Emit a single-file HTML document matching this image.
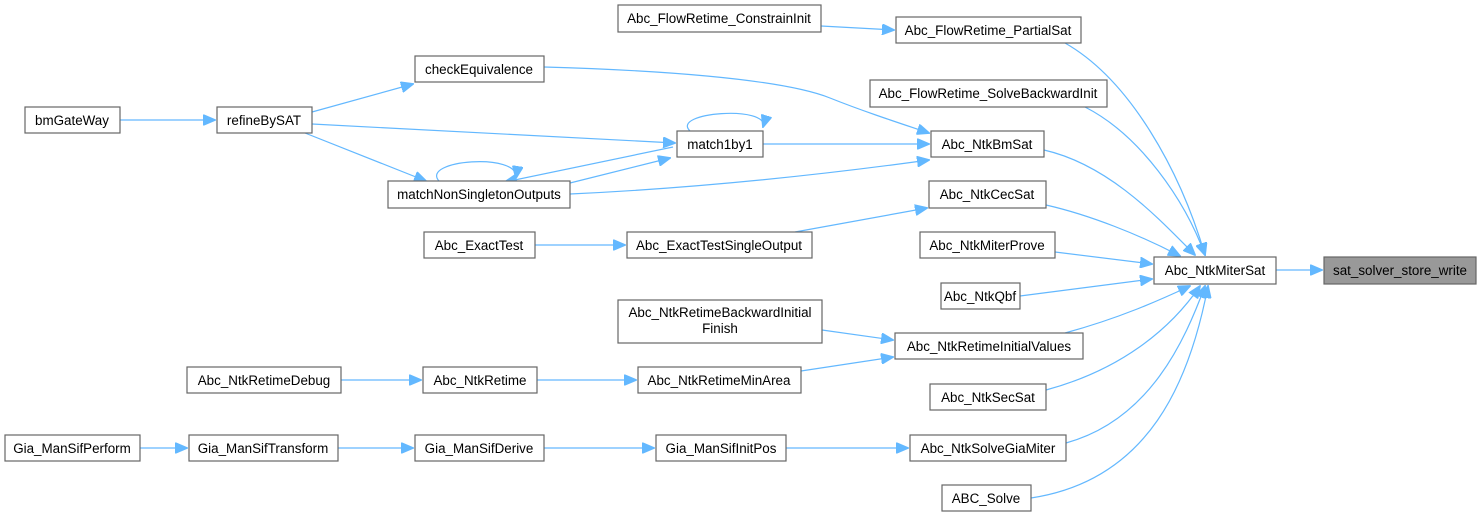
<!DOCTYPE html>
<html><head><meta charset="utf-8"><style>
html,body{margin:0;padding:0;background:#fff;}
svg{display:block;}
text{font-family:"Liberation Sans",Arial,sans-serif;font-size:13.4px;fill:#000;text-anchor:middle;}
.b{fill:#fff;stroke:#666;stroke-width:1.2;}
.e{fill:none;stroke:#63b8ff;stroke-width:1.2;}
</style></head><body>
<svg width="1482" height="517" viewBox="0 0 1482 517" xmlns="http://www.w3.org/2000/svg">
<defs><marker id="a" markerWidth="13" markerHeight="11" refX="12" refY="5.5" orient="auto" markerUnits="userSpaceOnUse"><path d="M0,0 L13,5.5 L0,11 z" fill="#63b8ff" stroke="#63b8ff"/></marker></defs>
<g class="e" marker-end="url(#a)">
<path d="M120,120 L215,120"/>
<path d="M312,112 L413,84"/>
<path d="M312,124 L675,143"/>
<path d="M305,133 L426,181"/>
<path d="M544,67 C650,70 780,78 830,98 C860,110 890,120 929,133"/>
<path d="M690,131 C670,112 770,105 763,127"/>
<path d="M673,147 L505,182"/>
<path d="M570,183 L670,158"/>
<path d="M439,181 C420,160 520,152 516,178"/>
<path d="M570,194 C700,188 820,175 929,160"/>
<path d="M763,144 L929,144"/>
<path d="M535,245 L625,245"/>
<path d="M795,232 L927,208"/>
<path d="M821,26 L894,30"/>
<path d="M1065,43 C1130,80 1180,170 1205,255"/>
<path d="M1085,107 C1140,135 1185,200 1205,255"/>
<path d="M1044,150 C1110,165 1160,220 1195,255"/>
<path d="M1046,205 C1090,215 1140,235 1180,256"/>
<path d="M1055,252 L1152,264"/>
<path d="M1020,296 L1152,279"/>
<path d="M1065,333 C1120,318 1160,300 1190,286"/>
<path d="M822,330 L893,340"/>
<path d="M801,371 L893,357"/>
<path d="M1046,390 C1120,370 1170,330 1200,286"/>
<path d="M1066,443 C1150,420 1185,340 1205,286"/>
<path d="M1031,498 C1150,480 1190,380 1208,286"/>
<path d="M1276,270 L1322,270"/>
<path d="M341,380 L421,380"/>
<path d="M537,380 L636,380"/>
<path d="M140,448 L187,448"/>
<path d="M338,448 L413,448"/>
<path d="M544,448 L654,448"/>
<path d="M786,448 L908,448"/>
</g>
<g>
<rect class="b" x="25" y="107" width="95" height="26"/><text x="72" y="125">bmGateWay</text>
<rect class="b" x="217" y="107" width="95" height="26"/><text x="264" y="125">refineBySAT</text>
<rect class="b" x="415" y="56" width="129" height="26"/><text x="479" y="74">checkEquivalence</text>
<rect class="b" x="388" y="181" width="182" height="27"/><text x="479" y="199">matchNonSingletonOutputs</text>
<rect class="b" x="677" y="131" width="86" height="26"/><text x="720" y="149">match1by1</text>
<rect class="b" x="424" y="232" width="111" height="26"/><text x="479" y="250">Abc_ExactTest</text>
<rect class="b" x="627" y="232" width="185" height="26"/><text x="719" y="250">Abc_ExactTestSingleOutput</text>
<rect class="b" x="618" y="5" width="203" height="27"/><text x="719" y="23">Abc_FlowRetime_ConstrainInit</text>
<rect class="b" x="896" y="17" width="185" height="26"/><text x="988" y="35">Abc_FlowRetime_PartialSat</text>
<rect class="b" x="870" y="80" width="237" height="27"/><text x="988" y="98">Abc_FlowRetime_SolveBackwardInit</text>
<rect class="b" x="931" y="131" width="113" height="26"/><text x="987" y="149">Abc_NtkBmSat</text>
<rect class="b" x="929" y="181" width="117" height="27"/><text x="987" y="199">Abc_NtkCecSat</text>
<rect class="b" x="920" y="232" width="135" height="26"/><text x="987" y="250">Abc_NtkMiterProve</text>
<rect class="b" x="1154" y="257" width="122" height="27"/><text x="1215" y="275">Abc_NtkMiterSat</text>
<rect x="1324" y="257" width="152" height="27" fill="#999" stroke="#666" stroke-width="1.2"/><text x="1400" y="275">sat_solver_store_write</text>
<rect class="b" x="941" y="283" width="79" height="26"/><text x="980" y="301">Abc_NtkQbf</text>
<rect class="b" x="618" y="300" width="204" height="43"/><text x="720" y="317">Abc_NtkRetimeBackwardInitial</text><text x="720" y="333">Finish</text>
<rect class="b" x="895" y="333" width="188" height="26"/><text x="989" y="351">Abc_NtkRetimeInitialValues</text>
<rect class="b" x="187" y="367" width="154" height="26"/><text x="264" y="385">Abc_NtkRetimeDebug</text>
<rect class="b" x="423" y="367" width="114" height="26"/><text x="480" y="385">Abc_NtkRetime</text>
<rect class="b" x="638" y="367" width="163" height="26"/><text x="719" y="385">Abc_NtkRetimeMinArea</text>
<rect class="b" x="930" y="384" width="116" height="26"/><text x="988" y="402">Abc_NtkSecSat</text>
<rect class="b" x="5" y="435" width="135" height="26"/><text x="72" y="453">Gia_ManSifPerform</text>
<rect class="b" x="189" y="435" width="149" height="26"/><text x="263" y="453">Gia_ManSifTransform</text>
<rect class="b" x="415" y="435" width="129" height="26"/><text x="479" y="453">Gia_ManSifDerive</text>
<rect class="b" x="656" y="435" width="130" height="26"/><text x="721" y="453">Gia_ManSifInitPos</text>
<rect class="b" x="910" y="435" width="156" height="26"/><text x="988" y="453">Abc_NtkSolveGiaMiter</text>
<rect class="b" x="942" y="485" width="89" height="26"/><text x="986" y="503">ABC_Solve</text>
</g>
</svg>
</body></html>
